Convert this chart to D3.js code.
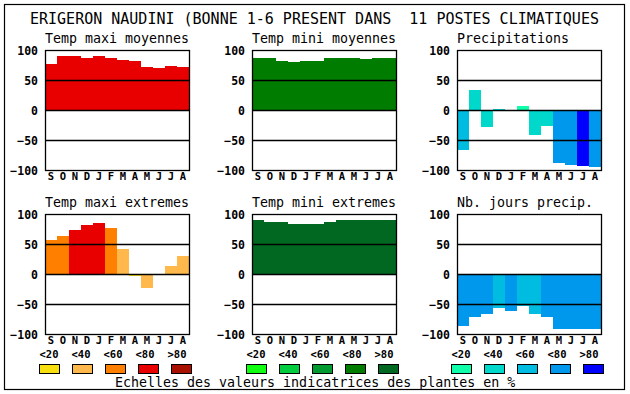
<!DOCTYPE html>
<html><head><meta charset="utf-8">
<script src="https://cdn.jsdelivr.net/npm/d3@7"></script>
<style>
html,body{margin:0;padding:0;background:#fff;}
svg{display:block;}
text{font-family:"DejaVu Sans Mono","Liberation Mono",monospace;fill:#000;}
.tick text,.lbl{font-weight:bold;}
</style></head>
<body><svg id="c" width="630" height="394"></svg>
<script>
const title = "ERIGERON NAUDINI (BONNE 1-6 PRESENT DANS  11 POSTES CLIMATIQUES";
const footer = "Echelles des valeurs indicatrices des plantes en %";
const months = ["S","O","N","D","J","F","M","A","M","J","J","A"];
const yTicks = [-100,-50,0,50,100];
const gridVals = [-50,0,50];
const scaleLabels = ["<20","<40","<60","<80",">80"];

// colour palettes (classes 0..4 = <20 .. >80)
const palMaxi = ["#f8e010","#ffb84c","#ff8000","#e80000","#a81000"];
const palMini = ["#10ff10","#00cc40","#009a30","#007c00","#006820"];
const palPrec = ["#10ffaa","#00d8cc","#00bce0","#0098ec","#0000ff"];

const titles = ["Temp maxi moyennes","Temp mini moyennes","Precipitations",
                "Temp maxi extremes","Temp mini extremes","Nb. jours precip."];

const tempMaxiMoy      = [77,90,90,87,90,87,83,82,72,70,73,72];
const tempMaxiMoyCls   = [3,3,3,3,3,3,3,3,3,3,3,3];
const tempMiniMoy      = [87,87,82,80,82,82,87,87,87,85,87,87];
const tempMiniMoyCls   = [3,3,3,3,3,3,3,3,3,3,3,3];
const precip           = [-67,33,-28,2,0,7,-42,-27,-88,-91,-93,-95];
const precipCls        = [2,1,1,1,1,0,1,1,3,3,4,3];
const tempMaxiExt      = [57,64,74,82,85,77,42,-4,-24,-2,14,30];
const tempMaxiExtCls   = [2,2,3,3,3,2,1,0,1,0,1,1];
const tempMiniExt      = [90,87,86,84,84,84,86,90,90,90,90,90];
const tempMiniExtCls   = [4,4,4,4,4,4,4,4,4,4,4,4];
const joursPrec        = [-87,-72,-67,-57,-61,-54,-66,-71,-91,-91,-91,-91];
const joursPrecCls     = [3,3,3,2,3,2,2,3,3,3,3,3];

const panels = [
  {vals:tempMaxiMoy, cls:tempMaxiMoyCls, pal:palMaxi, col:0, row:0},
  {vals:tempMiniMoy, cls:tempMiniMoyCls, pal:palMini, col:1, row:0},
  {vals:precip,      cls:precipCls,      pal:palPrec, col:2, row:0},
  {vals:tempMaxiExt, cls:tempMaxiExtCls, pal:palMaxi, col:0, row:1},
  {vals:tempMiniExt, cls:tempMiniExtCls, pal:palMini, col:1, row:1},
  {vals:joursPrec,   cls:joursPrecCls,   pal:palPrec, col:2, row:1}
];

const colLeft = [45,252,457];
const rowTop = [50,214];
const W = 144, H = 120;

const svg = d3.select("#c");
svg.append("rect").attr("x",4.5).attr("y",4.5).attr("width",620).attr("height",385)
  .attr("fill","#fff").attr("stroke","#000").attr("stroke-width",1.2);

svg.append("text").attr("x",30).attr("y",23.5).attr("font-size",15).text(title).attr("xml:space","preserve").style("white-space","pre");

const x = d3.scaleBand().domain(d3.range(12)).range([0,W]).padding(0);
const y = d3.scaleLinear().domain([-100,100]).range([H,0]);

panels.forEach((p,k)=>{
  const g = svg.append("g").attr("transform",`translate(${colLeft[p.col]},${rowTop[p.row]})`);
  g.append("text").attr("x",0).attr("y",-7.5).attr("font-size",13.3).text(titles[k]);
  g.append("rect").attr("x",0).attr("y",0).attr("width",W).attr("height",H).attr("fill","#fff");
  g.selectAll("rect.bar").data(p.vals).join("rect").attr("class","bar")
    .attr("x",(d,i)=>x(i)).attr("width",x.bandwidth())
    .attr("y",d=>y(Math.max(0,d))).attr("height",d=>Math.abs(y(d)-y(0)))
    .attr("fill",(d,i)=>p.pal[p.cls[i]]).attr("shape-rendering","crispEdges");
  g.selectAll("line.grid").data(gridVals).join("line").attr("class","grid")
    .attr("x1",0).attr("x2",W).attr("y1",d=>Math.round(y(d))+0.5).attr("y2",d=>Math.round(y(d))+0.5)
    .attr("stroke","#000").attr("stroke-width",1.3);
  g.append("rect").attr("x",0.5).attr("y",0.5).attr("width",W).attr("height",H)
    .attr("fill","none").attr("stroke","#000").attr("stroke-width",1.3);
  const ya = d3.axisLeft(y).tickValues(yTicks).tickSize(0).tickPadding(7).tickFormat(d3.format("d"));
  const ag = g.append("g").call(ya);
  ag.select(".domain").remove();
  ag.selectAll("text").attr("font-size",11.5).attr("font-family",null).attr("dy","0.36em");
  const xa = d3.axisBottom(x).tickSize(0).tickPadding(3).tickFormat(i=>months[i]);
  const bg = g.append("g").attr("transform",`translate(0,${H})`).call(xa);
  bg.select(".domain").remove();
  bg.selectAll("text").attr("font-size",10.5).attr("font-family",null);
  if(p.row===1){
    const lg = g.append("g").attr("transform",`translate(0,${H})`);
    lg.selectAll("text.lbl").data(scaleLabels).join("text").attr("class","lbl")
      .attr("x",(d,i)=>4+i*32).attr("y",23.8).attr("text-anchor","middle")
      .attr("font-size",10.5).text(d=>d);
    lg.selectAll("rect.sw").data(p.pal).join("rect").attr("class","sw")
      .attr("x",(d,i)=>-6+i*33+0.5).attr("y",30.5).attr("width",20).attr("height",9)
      .attr("fill",d=>d).attr("stroke","#000").attr("stroke-width",1);
  }
});

svg.append("text").attr("x",115).attr("y",387).attr("font-size",13.3).text(footer);
</script></body></html>
